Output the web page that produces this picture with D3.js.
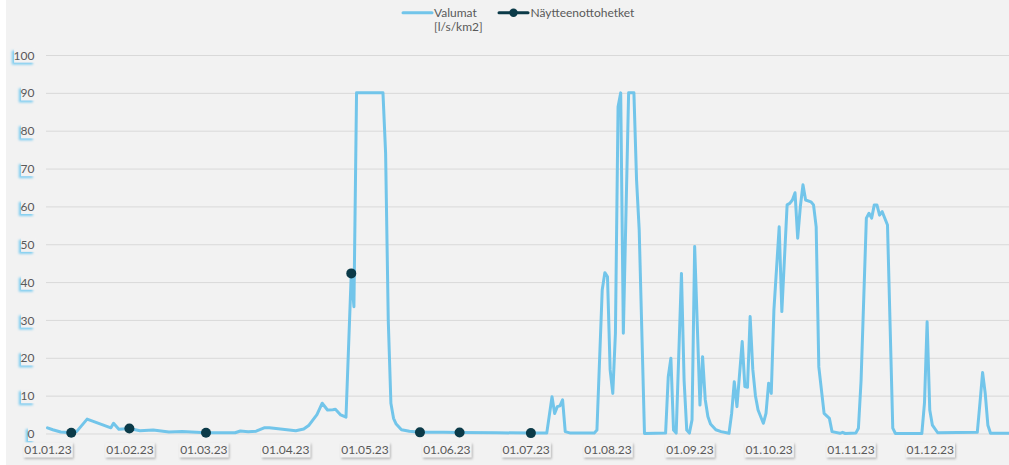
<!DOCTYPE html>
<html>
<head>
<meta charset="utf-8">
<script src="https://cdn.jsdelivr.net/npm/d3@7"></script>
<style>
  html, body { margin: 0; padding: 0; background: #ffffff; }
  svg { display: block; }
  text { font-family: Lato, "Open Sans", sans-serif; }
</style>
</head>
<body>
<svg id="chart" width="1009" height="465"></svg>
<script>
// ---------- DATA ----------
const flowDates = [
  "2023-01-01","2023-01-03","2023-01-06","2023-01-10","2023-01-12","2023-01-16","2023-01-25","2023-01-26","2023-01-28",
  "2023-02-01","2023-02-05","2023-02-10","2023-02-16","2023-02-21",
  "2023-03-02","2023-03-13","2023-03-15","2023-03-18","2023-03-21","2023-03-24","2023-03-26",
  "2023-04-05","2023-04-08","2023-04-10","2023-04-13","2023-04-15","2023-04-17","2023-04-19","2023-04-20","2023-04-22","2023-04-24","2023-04-26","2023-04-27","2023-04-28",
  "2023-05-08","2023-05-09","2023-05-10","2023-05-11","2023-05-12","2023-05-13","2023-05-15","2023-05-18","2023-05-22","2023-05-31",
  "2023-06-06","2023-06-20",
  "2023-07-03","2023-07-09","2023-07-11","2023-07-12","2023-07-13","2023-07-14","2023-07-15","2023-07-16","2023-07-18","2023-07-27","2023-07-28","2023-07-30","2023-07-31",
  "2023-08-01","2023-08-02","2023-08-03","2023-08-04","2023-08-05","2023-08-06","2023-08-07","2023-08-09","2023-08-11","2023-08-12","2023-08-13","2023-08-15","2023-08-23","2023-08-24","2023-08-25","2023-08-26","2023-08-27","2023-08-29","2023-08-30","2023-08-31",
  "2023-09-01","2023-09-02","2023-09-03","2023-09-05","2023-09-06","2023-09-07","2023-09-08","2023-09-09","2023-09-11","2023-09-13","2023-09-16","2023-09-17","2023-09-18","2023-09-19","2023-09-21","2023-09-22","2023-09-23","2023-09-24","2023-09-25","2023-09-26","2023-09-27","2023-09-29","2023-09-30",
  "2023-10-01","2023-10-02","2023-10-03","2023-10-05","2023-10-06","2023-10-08","2023-10-09","2023-10-10","2023-10-11","2023-10-12","2023-10-13","2023-10-14","2023-10-15","2023-10-17","2023-10-18","2023-10-19","2023-10-20","2023-10-22","2023-10-24","2023-10-25","2023-10-28","2023-10-29","2023-10-30",
  "2023-11-03","2023-11-04","2023-11-05","2023-11-07","2023-11-08","2023-11-09","2023-11-10","2023-11-11","2023-11-12","2023-11-13","2023-11-15","2023-11-17","2023-11-18","2023-11-28","2023-11-29","2023-11-30",
  "2023-12-01","2023-12-02","2023-12-04","2023-12-19","2023-12-20","2023-12-21","2023-12-22","2023-12-23","2023-12-24","2023-12-31"
];
const flowValues = [
  1.5,1.0,0.4,0.2,0.5,3.8,1.5,2.7,1.1,
  1.3,0.75,0.9,0.4,0.5,
  0.2,0.2,0.65,0.45,0.6,1.5,1.5,
  0.75,1.2,2.2,5.0,8.0,6.2,6.3,6.4,4.9,4.3,42.3,33.5,90,
  90,74,30,8,4.0,2.5,1.0,0.6,0.3,0.3,
  0.25,0.2,
  0.1,0.1,9.7,5.3,7.1,7.3,8.9,0.5,0.1,0.1,0.9,37.9,42.5,
  41.4,16.8,10.6,26.5,86.3,90,26.5,90,90,67,53.8,0,0.1,15,19.9,0.9,0.1,42.3,14,0.9,
  0.1,3.6,49.4,7.5,20.3,9,4.5,2.5,1.0,0.5,0.05,5.3,13.7,7.1,24.3,12.4,12.2,30.9,17,10,6.2,2.7,5.3,
  13.3,10.6,32.6,54.6,32.2,60.4,60.8,61.7,63.6,51.6,59.9,65.7,61.7,61.2,60.4,54.6,17.6,5.3,4.0,0.5,0.05,0.3,0,
  0.1,1.4,14,56.9,58.2,56.9,60.4,60.4,57.7,58.6,55.1,1.4,0,0,8,29.5,
  6.2,2.2,0.2,0.3,8,16.1,10.6,2.2,0.05,0.05
];
const sampleDates = ["2023-01-10","2023-02-01","2023-03-02","2023-04-26","2023-05-22","2023-06-06","2023-07-03"];
const sampleValues = [0.2, 1.3, 0.2, 42.3, 0.3, 0.25, 0.1];
const yTicks = [0,10,20,30,40,50,60,70,80,90,100];
const xTickDates = ["2023-01-01","2023-02-01","2023-03-01","2023-04-01","2023-05-01","2023-06-01",
                    "2023-07-01","2023-08-01","2023-09-01","2023-10-01","2023-11-01","2023-12-01"];
const seriesNames = ["Valumat", "Näytteenottohetket"];
const unitLabel = "[l/s/km2]";

// ---------- SETUP ----------
const parse = d3.timeParse("%Y-%m-%d");
const W = 1009, H = 465;
const svg = d3.select("#chart");
const lightBlue = "#72c5ea";
const darkTeal = "#0b3a48";
const labelColor = "#595959";

const defs = svg.append("defs");
const f1 = defs.append("filter").attr("id","xshadow").attr("x","-20%").attr("y","-40%").attr("width","150%").attr("height","200%");
f1.append("feDropShadow").attr("dx",1).attr("dy",1.5).attr("stdDeviation",1.2).attr("flood-color","#a6a6a6").attr("flood-opacity",0.8);
const f2 = defs.append("filter").attr("id","yshadow").attr("x","-80%").attr("y","-60%").attr("width","220%").attr("height","220%");
f2.append("feDropShadow").attr("dx",-2.2).attr("dy",2).attr("stdDeviation",1.3).attr("flood-color","#7fcdf0").attr("flood-opacity",1);

svg.append("rect").attr("x",6).attr("y",0).attr("width",W-6).attr("height",H).attr("fill","#f2f2f2");

const x = d3.scaleTime()
  .domain([parse("2023-01-01"), parse("2023-12-31")])
  .range([47.5, 1009]);
const y = d3.scaleLinear().domain([0,100]).range([433.5, 55]);

// gridlines + y labels
const yAxis = d3.axisLeft(y).tickValues(yTicks).tickSize(-(W - 46)).tickPadding(0).tickFormat(d3.format("d"));
const gy = svg.append("g").attr("transform","translate(46,0)").call(yAxis);
gy.select(".domain").remove();
gy.selectAll(".tick line").attr("stroke","#d9d9d9").attr("stroke-width",1);
gy.selectAll(".tick text")
  .attr("x",-11.5).attr("dy","0.34em")
  .attr("fill",labelColor).style("font-size","12px").style("font-family","Lato, sans-serif");
gy.selectAll(".tick").each(function(){
  const g = d3.select(this);
  const t = g.select("text");
  const bb = t.node().getBBox();
  g.insert("rect","text")
    .attr("x",bb.x+0.5).attr("y",bb.y+1).attr("width",bb.width).attr("height",bb.height-1)
    .attr("fill","#f2f2f2").attr("filter","url(#yshadow)");
});

// x labels
const xAxis = d3.axisBottom(x).tickValues(xTickDates.map(parse)).tickSize(0).tickFormat(d3.timeFormat("%d.%m.%y"));
const gx = svg.append("g").attr("transform","translate(0,441)").call(xAxis);
gx.select(".domain").remove();
gx.selectAll(".tick text")
  .attr("y",0).attr("dy","1.12em")
  .attr("fill",labelColor).style("font-size","12px").style("font-family","Lato, sans-serif");
gx.selectAll(".tick").each(function(){
  const g = d3.select(this);
  const t = g.select("text");
  const bb = t.node().getBBox();
  g.insert("rect","text")
    .attr("x",bb.x-1).attr("y",bb.y).attr("width",bb.width+2).attr("height",bb.height)
    .attr("fill","#f2f2f2").attr("filter","url(#xshadow)");
});

// flow line
const flow = flowDates.map((d,i) => ({date: parse(d), value: flowValues[i]}));
const line = d3.line().x(d => x(d.date)).y(d => y(d.value));
svg.append("path").datum(flow)
  .attr("d", line)
  .attr("fill","none").attr("stroke",lightBlue).attr("stroke-width",3)
  .attr("stroke-linejoin","round").attr("stroke-linecap","round");

// sample markers
const samples = sampleDates.map((d,i) => ({date: parse(d), value: sampleValues[i]}));
svg.append("g").selectAll("circle").data(samples).join("circle")
  .attr("cx", d => x(d.date)).attr("cy", d => y(d.value)).attr("r",5)
  .attr("fill",darkTeal);

// legend
const lg = svg.append("g");
lg.append("line").attr("x1",403).attr("x2",432).attr("y1",12.7).attr("y2",12.7)
  .attr("stroke",lightBlue).attr("stroke-width",3).attr("stroke-linecap","round");
lg.append("text").attr("x",434).attr("y",16.5).attr("fill",labelColor).style("font-size","12px").text(seriesNames[0]);
lg.append("text").attr("x",434).attr("y",31).attr("fill",labelColor).style("font-size","12px").text(unitLabel);
lg.append("line").attr("x1",499).attr("x2",528).attr("y1",12.7).attr("y2",12.7)
  .attr("stroke",darkTeal).attr("stroke-width",3).attr("stroke-linecap","round");
lg.append("circle").attr("cx",513.5).attr("cy",12.7).attr("r",4.2).attr("fill",darkTeal);
lg.append("text").attr("x",530.5).attr("y",16.5).attr("fill",labelColor).style("font-size","12px").text(seriesNames[1]);
</script>
</body>
</html>
